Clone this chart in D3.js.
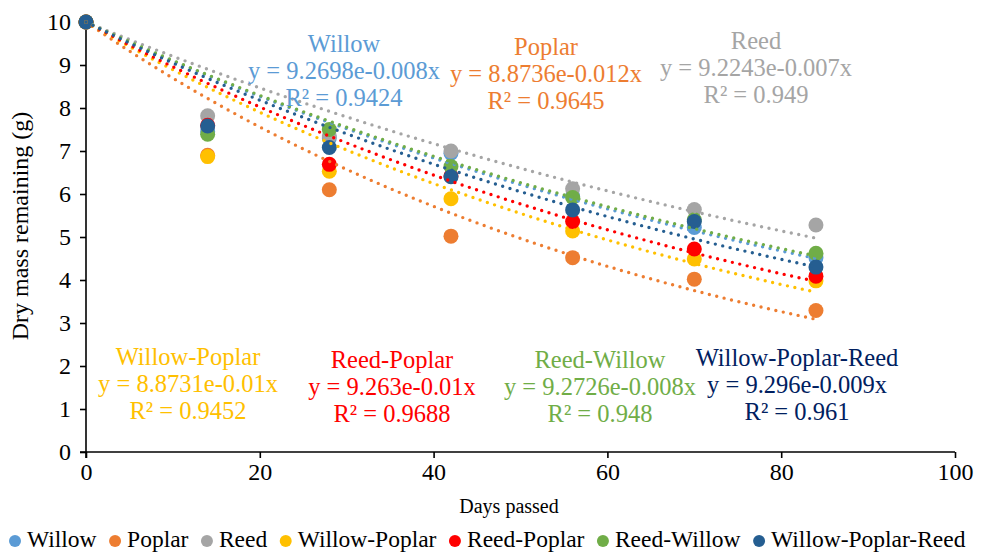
<!DOCTYPE html>
<html>
<head>
<meta charset="utf-8">
<script src="https://cdn.jsdelivr.net/npm/d3@7"></script>
<style>
  body { margin: 0; background: #fff; }
  svg text { font-family: "Liberation Serif", "Times New Roman", serif; }
</style>
</head>
<body>
<svg id="chart"></svg>
<script>
// sampling days and series names
const days = [0, 14, 28, 42, 56, 70, 84];
const seriesNames = ['Willow', 'Poplar', 'Reed', 'Willow-Poplar', 'Reed-Poplar', 'Reed-Willow', 'Willow-Poplar-Reed'];
const colors = ['#5b9bd5', '#ed7d31', '#a5a5a5', '#ffc000', '#ff0000', '#70ad47', '#255e91'];
const labelColors = ['#5b9bd5', '#ed7d31', '#a5a5a5', '#ffc000', '#ff0000', '#70ad47', '#002060'];

// dry mass remaining (g)
const willow = [10, 7.45, 7.3, 6.95, 5.95, 5.22, 4.52];
const poplar = [10, 6.9, 6.1, 5.02, 4.52, 4.02, 3.29];
const reed = [10, 7.82, 7.35, 7.0, 6.12, 5.64, 5.28];
const willowPoplar = [10, 6.87, 6.53, 5.89, 5.14, 4.49, 3.98];
const reedPoplar = [10, 7.6, 6.69, 6.42, 5.36, 4.72, 4.09];
const reedWillow = [10, 7.39, 7.5, 6.64, 5.92, 5.4, 4.62];
const willowPoplarReed = [10, 7.58, 7.08, 6.4, 5.63, 5.36, 4.3];
const values = [willow, poplar, reed, willowPoplar, reedPoplar, reedWillow, willowPoplarReed];

// trendline labels as printed on the chart
const eqLabels = ['y = 9.2698e-0.008x', 'y = 8.8736e-0.012x', 'y = 9.2243e-0.007x', 'y = 8.8731e-0.01x',
  'y = 9.263e-0.01x', 'y = 9.2726e-0.008x', 'y = 9.296e-0.009x'];
const r2Labels = ['R² = 0.9424', 'R² = 0.9645', 'R² = 0.949', 'R² = 0.9452', 'R² = 0.9688', 'R² = 0.948', 'R² = 0.961'];

const xTicks = [0, 20, 40, 60, 80, 100];
const yTicks = [0, 1, 2, 3, 4, 5, 6, 7, 8, 9, 10];

const serif = '"Liberation Serif", "Times New Roman", serif';
const width = 991, height = 552;
const svg = d3.select('#chart').attr('width', width).attr('height', height);

const x = d3.scaleLinear().domain([0, 100]).range([86, 955]);
const y = d3.scaleLinear().domain([0, 10]).range([452, 22]);

// axes
const xAxis = svg.append('g')
  .attr('transform', `translate(0,${y(0)})`)
  .call(d3.axisBottom(x).tickValues(xTicks).tickSize(6).tickPadding(5));
const yAxis = svg.append('g')
  .attr('transform', `translate(${x(0)},0)`)
  .call(d3.axisLeft(y).tickValues(yTicks).tickSize(6).tickPadding(9));
[xAxis, yAxis].forEach(a => {
  a.attr('font-family', serif).attr('font-size', 24);
  a.select('.domain').attr('stroke', '#000').attr('stroke-width', 1.6);
  a.selectAll('.tick line').attr('stroke', '#000').attr('stroke-width', 1.6);
  a.selectAll('.tick text').attr('fill', '#000');
});
// axis lines cross at the origin like the reference
yAxis.select('.domain').attr('d', `M0,${y(10)}V${y(0) + 6}`);
xAxis.select('.domain').attr('d', `M${x(0) - 6},0H${x(100)}`);

// exponential trend with fixed intercept 10 (least squares on ln)
function fitRate(ys) {
  let num = 0, den = 0;
  days.forEach((d, i) => { num += d * Math.log(ys[i] / 10); den += d * d; });
  return num / den;
}

const line = d3.line().x(d => x(d[0])).y(d => y(d[1]));

// markers
values.forEach((ys, s) => {
  svg.append('g').selectAll('circle')
    .data(days.map((d, i) => [d, ys[i]]))
    .enter().append('circle')
    .attr('cx', d => x(d[0])).attr('cy', d => y(d[1]))
    .attr('r', 7.5).attr('fill', colors[s]);
});

// trendlines
values.forEach((ys, s) => {
  const b = fitRate(ys);
  const pts = d3.range(0, 84.01, 0.5).map(t => [t, 10 * Math.exp(b * t)]);
  svg.append('path').attr('d', line(pts))
    .attr('fill', 'none').attr('stroke', colors[s])
    .attr('stroke-width', 3.4).attr('stroke-linecap', 'round')
    .attr('stroke-dasharray', '0 7.6');
});

// trendline annotations (centre x, first baseline)
const annPos = [[344, 52], [546, 55], [756, 49], [188, 365], [392, 368], [600, 368], [797, 366]];
annPos.forEach((p, s) => {
  const t = svg.append('text').attr('text-anchor', 'middle')
    .attr('fill', labelColors[s]).style('font-size', '24.5px');
  [seriesNames[s], eqLabels[s], r2Labels[s]].forEach((str, k) => {
    t.append('tspan').attr('x', p[0]).attr('y', p[1] + k * 27).text(str);
  });
});

// axis titles
svg.append('text').attr('transform', `translate(28,226) rotate(-90)`)
  .attr('text-anchor', 'middle').style('font-size', '24px').text('Dry mass remaining (g)');
svg.append('text').attr('x', 509).attr('y', 513)
  .attr('text-anchor', 'middle').style('font-size', '20px').text('Days passed');

// legend
let lx = 15;
seriesNames.forEach((name, s) => {
  const g = svg.append('g');
  g.append('circle').attr('cx', lx).attr('cy', 541).attr('r', 6).attr('fill', colors[s]);
  const t = g.append('text').attr('x', lx + 12).attr('y', 547)
    .style('font-size', '23.5px').attr('fill', '#000').text(name);
  lx += 12 + t.node().getComputedTextLength() + 18.5;
});
</script>
</body>
</html>
